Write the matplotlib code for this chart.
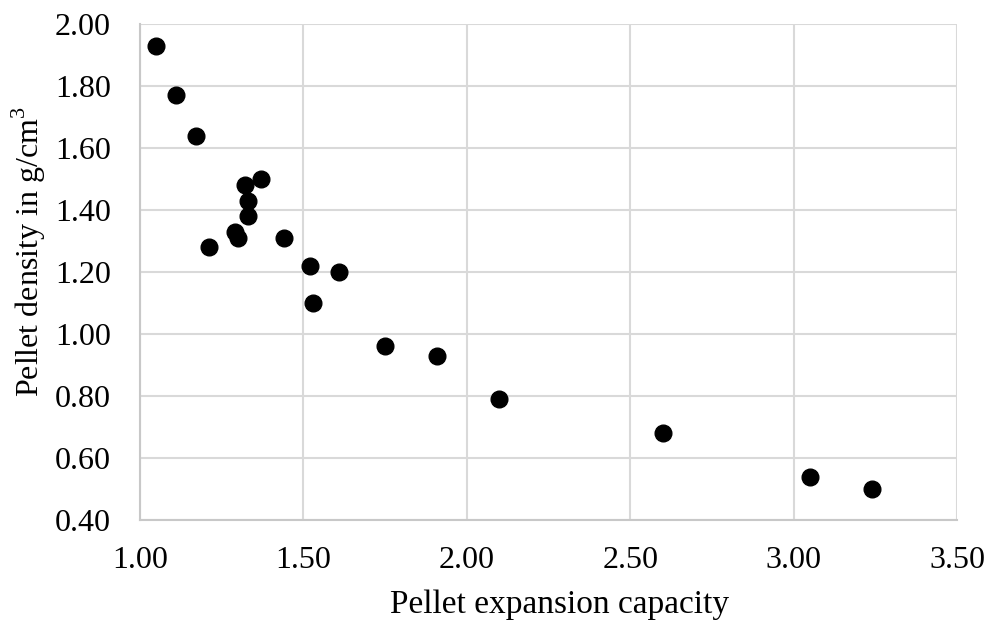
import matplotlib
matplotlib.use("Agg")
import matplotlib.pyplot as plt

# data
expansion = [1.05, 1.11, 1.17, 1.37, 1.32, 1.33, 1.33, 1.29, 1.30, 1.21,
             1.44, 1.52, 1.61, 1.53, 1.75, 1.91, 2.10, 2.60, 3.05, 3.24]
density = [1.93, 1.77, 1.64, 1.50, 1.48, 1.43, 1.38, 1.33, 1.31, 1.28,
           1.31, 1.22, 1.20, 1.10, 0.96, 0.93, 0.79, 0.68, 0.54, 0.50]
x_ticks = [1.0, 1.5, 2.0, 2.5, 3.0, 3.5]
y_ticks = [0.4, 0.6, 0.8, 1.0, 1.2, 1.4, 1.6, 1.8, 2.0]

plt.rcParams['font.family'] = ['Liberation Serif', 'DejaVu Serif']

fig = plt.figure(figsize=(9.86, 6.22), dpi=100)
ax = fig.add_axes([0.142, 0.164, 0.8286, 0.7974])

ax.plot(expansion, density, 'o', color='black', markersize=12, zorder=3)

ax.set_xlim(1.0, 3.5)
ax.set_ylim(0.4, 2.0)
ax.set_xticks(x_ticks)
ax.set_yticks(y_ticks)
ax.set_xticklabels([f'{v:.2f}' for v in x_ticks])
ax.set_yticklabels([f'{v:.2f}' for v in y_ticks])
ax.tick_params(length=0, labelsize=23)
ax.tick_params(axis='y', pad=21)
ax.tick_params(axis='x', pad=19)

ax.grid(True, color='#d9d9d9', linewidth=1.5)
ax.set_axisbelow(True)
for side in ['top', 'right']:
    ax.spines[side].set_visible(False)
for side in ['left', 'bottom']:
    ax.spines[side].set_color('#c8c8c8')
    ax.spines[side].set_linewidth(1.5)

fig.text(560 / 986, 1 - 605 / 622, 'Pellet expansion capacity',
         fontsize=24, ha='center', va='center')
fig.text(29 / 986, 1 - 252 / 622, r'Pellet density in g/cm$^{\mathregular{3}}$',
         fontsize=23, ha='center', va='center', rotation=90)

fig.savefig('out.png', dpi=100)
